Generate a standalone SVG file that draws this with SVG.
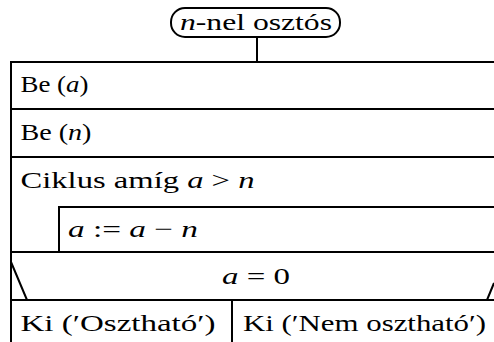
<svg xmlns="http://www.w3.org/2000/svg" width="494" height="342" viewBox="0 0 494 342">
<style>
.ln{stroke:#000;stroke-width:2;fill:none}
text{font-family:"Liberation Serif","Times New Roman",serif;font-size:24px;fill:#000}
.m{font-style:italic}
</style>
<rect width="494" height="342" fill="#fff"/>
<g id="start">
<rect class="ln" x="171" y="8" width="169" height="29" rx="14" ry="14"/>
<text x="180" y="30" textLength="152" lengthAdjust="spacingAndGlyphs"><tspan class="m">n</tspan>-nel osztós</text>
</g>
<g id="connectors">
<line class="ln" x1="257" y1="37" x2="257" y2="62"/>
</g>
<g id="be-a">
<path class="ln" d="M494 62H11V109"/>
<text x="20.5" y="92" textLength="68" lengthAdjust="spacingAndGlyphs">Be (<tspan class="m">a</tspan>)</text>
</g>
<g id="be-n">
<path class="ln" d="M494 109H11V157"/>
<text x="20.5" y="140" textLength="71" lengthAdjust="spacingAndGlyphs">Be (<tspan class="m">n</tspan>)</text>
</g>
<g id="loop">
<path class="ln" d="M494 157H11V252"/>
<text x="20.5" y="188" textLength="234" lengthAdjust="spacingAndGlyphs">Ciklus amíg <tspan class="m">a</tspan> &gt; <tspan class="m">n</tspan></text>
</g>
<g id="assign">
<path class="ln" d="M494 207H59V252"/>
<text x="68" y="237" textLength="130" lengthAdjust="spacingAndGlyphs"><tspan class="m">a</tspan> := <tspan class="m">a</tspan> − <tspan class="m">n</tspan></text>
</g>
<g id="decision">
<path class="ln" d="M494 252H11V300H494"/>
<path class="ln" d="M11 262L27 300M487 300L494 283"/>
<text x="222" y="284" textLength="68" lengthAdjust="spacingAndGlyphs"><tspan class="m">a</tspan> = 0</text>
</g>
<g id="yes">
<path class="ln" d="M11 300V342"/>
<text x="20.5" y="331" textLength="195" lengthAdjust="spacingAndGlyphs">Ki (′Osztható′)</text>
</g>
<g id="no">
<path class="ln" d="M232 300V342"/>
<text x="243" y="331" textLength="243" lengthAdjust="spacingAndGlyphs">Ki (′Nem osztható′)</text>
</g>
</svg>
